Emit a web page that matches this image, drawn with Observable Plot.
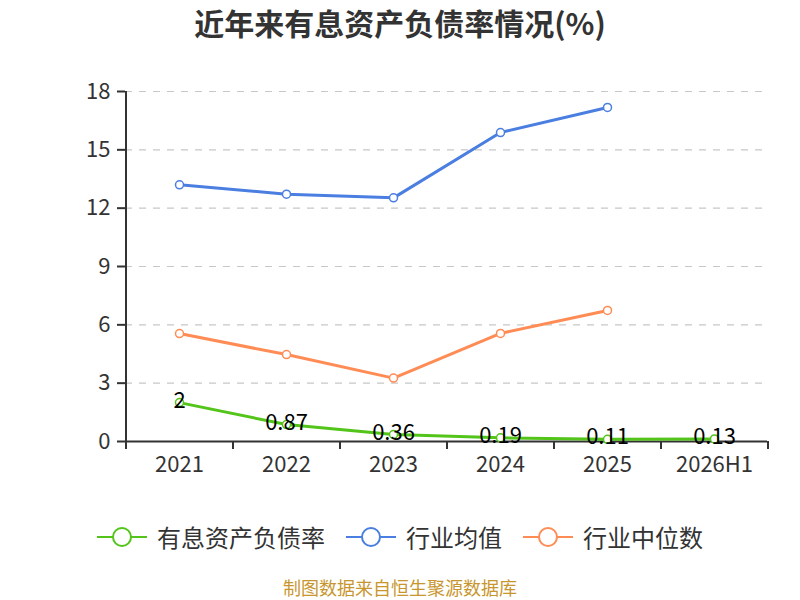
<!DOCTYPE html>
<html>
<head>
<meta charset="utf-8">
<script src="https://cdn.jsdelivr.net/npm/d3@7"></script>
<script src="https://cdn.jsdelivr.net/npm/@observablehq/plot@0.6"></script>
<style>
  html, body { margin: 0; padding: 0; background: #fff; }
  body { width: 800px; height: 600px; position: relative; overflow: hidden;
         font-family: "Noto Sans CJK SC", "Noto Sans", sans-serif; }
  #title { position: absolute; top: 2px; left: 0; width: 800px; text-align: center;
           font-size: 30px; font-weight: bold; color: #333; line-height: 40px; }
  #unit { position: absolute; left: 48px; top: 114px; width: 30px; height: 20px; line-height: 20px;
          text-align: center; color: #e00; font-size: 16px; transform: rotate(-90deg); }
  #chart { position: absolute; top: 50px; left: 0; }
  #legend { position: absolute; top: 520px; left: 0; width: 800px; height: 34px;
            display: flex; justify-content: center; align-items: center; gap: 21px; }
  .item { display: flex; align-items: center; gap: 10px; font-size: 24px; color: #333; line-height: 34px; }
  #footer { position: absolute; top: 575px; left: 0; width: 800px; text-align: center;
            font-size: 18px; color: #c8962e; line-height: 25px; }
</style>
</head>
<body>
<div id="title">近年来有息资产负债率情况(%)</div>
<div id="unit">(%)</div>
<div id="chart"></div>
<div id="legend"></div>
<div id="footer">制图数据来自恒生聚源数据库</div>
<script>
const categories = ["2021", "2022", "2023", "2024", "2025", "2026H1"];
const rateValues = [2, 0.87, 0.36, 0.19, 0.11, 0.13];
const meanValues = [13.2, 12.72, 12.53, 15.89, 17.18];
const medianValues = [5.55, 4.47, 3.26, 5.56, 6.74];
const yTicks = [0, 3, 6, 9, 12, 15, 18];
const seriesNames = ["有息资产负债率", "行业均值", "行业中位数"];
const seriesColors = ["#52c41a", "#4a7ee0", "#ff8c55"];

const toRows = (vals) => vals.map((v, i) => ({cat: categories[i], value: v}));
const rateRows = toRows(rateValues);
const meanRows = toRows(meanValues);
const medianRows = toRows(medianValues);

const W = 800, H = 450, ML = 125, MR = 33;
const half = (W - ML - MR) / categories.length / 2;

function seriesMarks(rows, color) {
  return [
    Plot.line(rows, {x: "cat", y: "value", stroke: color, strokeWidth: 3}),
    Plot.dot(rows, {x: "cat", y: "value", r: 4, fill: "white", stroke: color, strokeWidth: 1.5})
  ];
}

const chart = Plot.plot({
  width: W,
  height: H,
  marginLeft: ML,
  marginRight: MR,
  marginTop: 41,
  marginBottom: 59,
  style: {fontFamily: "'Noto Sans CJK SC', 'Noto Sans', sans-serif", color: "#333", background: "white", overflow: "visible"},
  x: {type: "point", domain: categories, padding: 0.5, label: null},
  y: {domain: [0, 18], label: null},
  marks: [
    Plot.gridY(yTicks.filter(d => d > 0), {stroke: "#c8c8c8", strokeOpacity: 1, strokeDasharray: "7,7", strokeWidth: 1.2}),
    Plot.ruleY([0], {stroke: "#333", strokeWidth: 2}),
    Plot.ruleX([categories[0]], {y1: 0, y2: 18, dx: -half, stroke: "#333", strokeWidth: 2}),
    Plot.axisX({tickSize: 8, tickFormat: () => "", dx: -half, strokeWidth: 2, label: null}),
    Plot.axisX([categories[categories.length - 1]], {tickSize: 8, tickFormat: () => "", dx: half, strokeWidth: 2, label: null}),
    Plot.axisX({tickSize: 0, tickPadding: 15, fontSize: 22, label: null}),
    Plot.axisY({ticks: yTicks, tickSize: 8, tickPadding: 7, fontSize: 22, strokeWidth: 2, label: null}),
    ...seriesMarks(meanRows, seriesColors[1]),
    ...seriesMarks(medianRows, seriesColors[2]),
    ...seriesMarks(rateRows, seriesColors[0]),
    Plot.text(rateRows, {x: "cat", y: "value", text: d => String(d.value), fontSize: 22, fill: "black", dy: -2})
  ]
});
document.getElementById("chart").appendChild(chart);

const legend = document.getElementById("legend");
seriesNames.forEach((name, i) => {
  const item = document.createElement("div");
  item.className = "item";
  const c = seriesColors[i];
  item.innerHTML = `<svg width="50" height="22" viewBox="0 0 50 22"><line x1="0" y1="11" x2="50" y2="11" stroke="${c}" stroke-width="2"/><circle cx="25" cy="11" r="9" fill="white" stroke="${c}" stroke-width="2"/></svg><span>${name}</span>`;
  legend.appendChild(item);
});
</script>
</body>
</html>
